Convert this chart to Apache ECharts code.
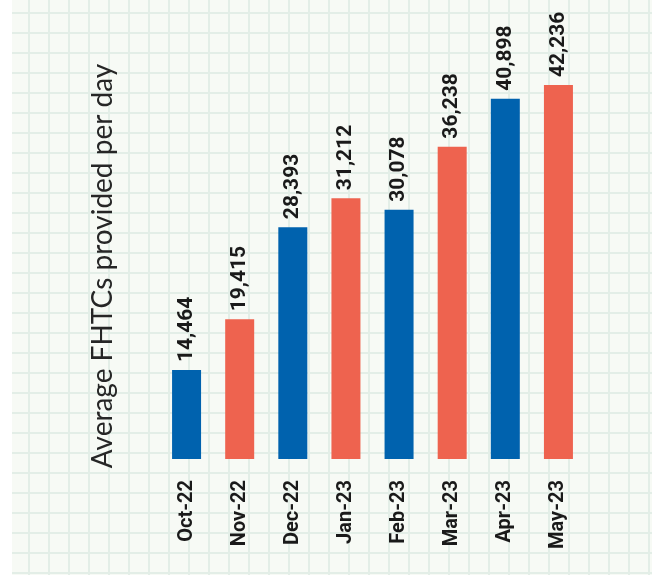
<!DOCTYPE html>
<html>
<head>
<meta charset="utf-8">
<script src="https://cdn.jsdelivr.net/npm/echarts@6/dist/echarts.min.js"></script>
<style>
  html, body { margin:0; padding:0; background:#ffffff; }
  #paper {
    position:absolute; left:12px; top:0; width:640px; height:575px;
    background-color:#f7faf5;
    background-image:
      linear-gradient(to right, #e3eee7 2px, transparent 2px),
      linear-gradient(to bottom, #e3eee7 2px, transparent 2px);
    background-size: 20px 20px;
    background-position: 16px 12px;
  }
  #chart { position:absolute; left:0; top:0; width:652px; height:577px; }
</style>
</head>
<body>
<div id="paper"></div>
<div id="chart"></div>
<script>
const categories = ["Oct-22", "Nov-22", "Dec-22", "Jan-23", "Feb-23", "Mar-23", "Apr-23", "May-23"];
const values = [14464, 19415, 28393, 31212, 30078, 36238, 40898, 42236];
const barColors = ["#0062ae", "#ee634f", "#0062ae", "#ee634f", "#0062ae", "#ee634f", "#0062ae", "#ee634f"];
const yTitle = "Average FHTCs provided per day";

const chart = echarts.init(document.getElementById('chart'), null, { renderer: 'canvas' });
chart.setOption({
  backgroundColor: 'transparent',
  animation: false,
  grid: { left: 160, right: 67, top: 5.4, bottom: 118, outerBoundsMode: 'none' },
  xAxis: {
    type: 'category',
    data: categories,
    axisLine: { show: false },
    axisTick: { show: false },
    axisLabel: {
      rotate: 90, margin: 21, interval: 0,
      fontFamily: 'Roboto', fontWeight: 'bold', fontSize: 20, color: '#1a1a1a'
    }
  },
  yAxis: {
    type: 'value', min: 5800, max: 50000,
    axisLine: { show: false }, axisTick: { show: false },
    axisLabel: { show: false }, splitLine: { show: false }
  },
  series: [{
    type: 'bar',
    barWidth: 29,
    data: values.map((v, i) => ({ value: v, itemStyle: { color: barColors[i] } })),
    label: {
      show: true, position: 'top', rotate: 90, distance: 8,
      align: 'left', verticalAlign: 'middle',
      fontFamily: 'Roboto', fontWeight: 'bold', fontSize: 21, color: '#1a1a1a',
      formatter: p => p.value.toLocaleString('en-US')
    }
  }],
  graphic: [{
    type: 'text', x: 103, y: 266, rotation: Math.PI / 2,
    style: {
      text: yTitle, align: 'center', verticalAlign: 'middle',
      fontFamily: 'Lato', fontSize: 28, fill: '#262626'
    }
  }]
});
</script>
</body>
</html>
